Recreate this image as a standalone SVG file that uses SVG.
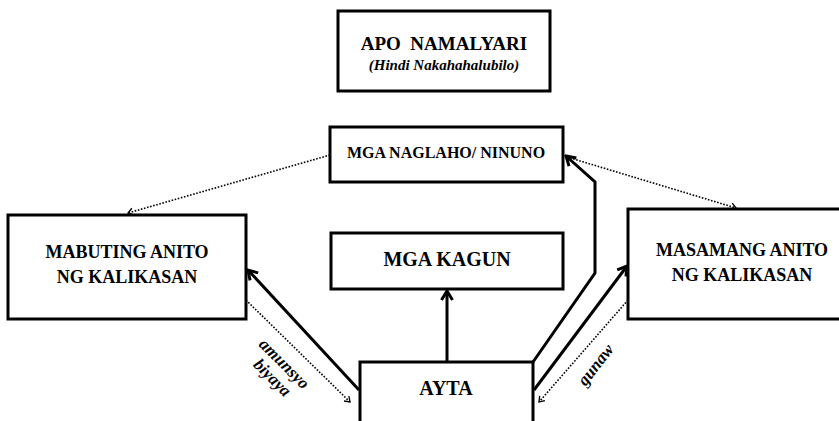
<svg xmlns="http://www.w3.org/2000/svg" width="839" height="421" viewBox="0 0 839 421">
<style>
.box{fill:#fff;stroke:#000;stroke-width:3}
.solid{fill:none;stroke:#000;stroke-width:3;stroke-linejoin:miter}
.dot{fill:none;stroke:#000;stroke-width:1.6;stroke-dasharray:1.6 1.6}
</style>
<defs>
<marker id="ah" markerUnits="userSpaceOnUse" viewBox="0 0 14 14" refX="12" refY="7" markerWidth="14" markerHeight="14" orient="auto">
<path d="M3,1.5 L12,7 L3,12.5" fill="none" stroke="#000" stroke-width="3"/>
</marker>
<marker id="dh" markerUnits="userSpaceOnUse" viewBox="0 0 10 10" refX="9" refY="5" markerWidth="10" markerHeight="10" orient="auto">
<path d="M4,1.5 L9,5 L4,8.5" fill="none" stroke="#000" stroke-width="1.3"/>
</marker>
</defs>
<rect width="839" height="421" fill="#fff"/>
<g font-family="Liberation Serif" font-weight="bold" fill="#000" text-anchor="middle">
<g id="connectors">
<line class="dot" x1="330" y1="155" x2="128" y2="213" marker-end="url(#dh)"/>
<line class="dot" x1="567" y1="157" x2="736" y2="208" marker-end="url(#dh)"/>
<line class="solid" x1="447" y1="362" x2="447" y2="291" marker-end="url(#ah)"/>
<line class="solid" x1="359" y1="390" x2="248" y2="270" marker-end="url(#ah)"/>
<line class="dot" x1="246" y1="300" x2="350" y2="402" marker-end="url(#dh)"/>
<polyline class="solid" points="533,362 595,273 595,182 566,156" marker-end="url(#ah)"/>
<line class="solid" x1="534" y1="390" x2="627" y2="266" marker-end="url(#ah)"/>
<line class="dot" x1="628" y1="300" x2="539" y2="402" marker-end="url(#dh)"/>
<text font-style="italic" font-size="17" transform="translate(284,364) rotate(45)" dy="5">amunsyo</text>
<text font-style="italic" font-size="17" transform="translate(272,378) rotate(45)" dy="5">biyaya</text>
<text font-style="italic" font-size="17" transform="translate(596,365) rotate(-52)" dy="5">gunaw</text>
</g>
<g id="apo">
<rect class="box" x="338" y="11" width="212" height="80"/>
<text x="444" y="50" font-size="19" xml:space="preserve">APO  NAMALYARI</text>
<text font-style="italic" x="444" y="70" font-size="15">(Hindi Nakahahalubilo)</text>
</g>
<g id="naglaho">
<rect class="box" x="330" y="127" width="233" height="55"/>
<text x="446" y="158" font-size="16">MGA NAGLAHO/ NINUNO</text>
</g>
<g id="mabuting">
<rect class="box" x="8" y="215" width="238" height="104"/>
<text x="127" y="258" font-size="18">MABUTING ANITO</text>
<text x="127" y="283" font-size="18">NG KALIKASAN</text>
</g>
<g id="masamang">
<rect class="box" x="628" y="209" width="222" height="110"/>
<text x="742" y="256" font-size="18">MASAMANG ANITO</text>
<text x="742" y="281" font-size="18">NG KALIKASAN</text>
</g>
<g id="kagun">
<rect class="box" x="331" y="233" width="232" height="56"/>
<text x="447" y="266" font-size="20">MGA KAGUN</text>
</g>
<g id="ayta">
<rect class="box" x="360" y="362" width="173" height="70"/>
<text x="446" y="395" font-size="20">AYTA</text>
</g>
</g>
</svg>
